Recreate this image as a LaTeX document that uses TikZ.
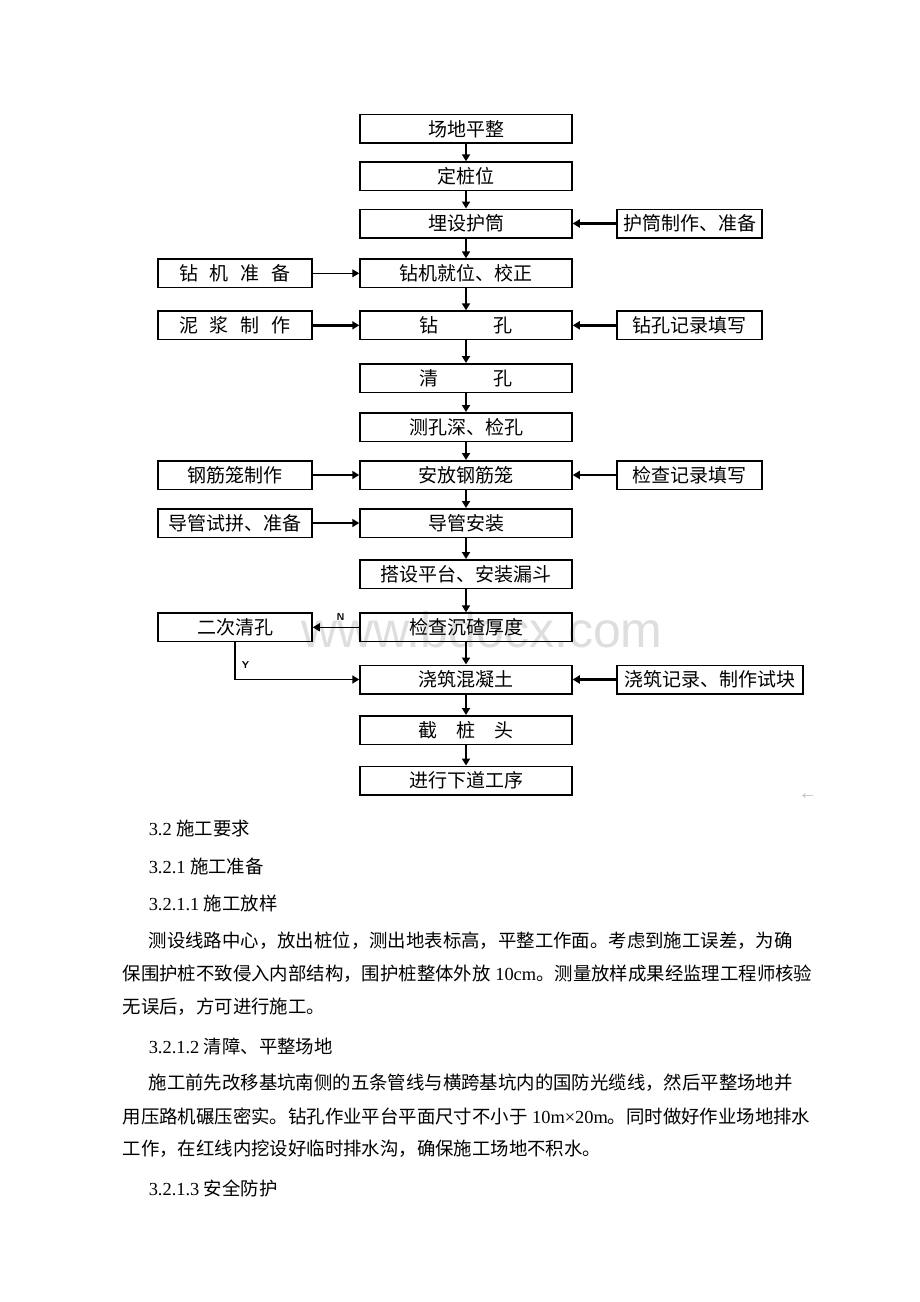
\documentclass[tikz,border=0pt]{standalone}
\usepackage{fontspec}
\setmainfont{Liberation Serif}
\newfontfamily\cjk{Noto Sans CJK SC}
\usetikzlibrary{arrows.meta}

\tikzset{every picture/.style={line width=0.75pt}}
\tikzset{
  box/.style={draw, inner sep=0pt, minimum width=106pt, minimum height=14.25pt, font=\fontsize{9.5pt}{11pt}\cjk},
  sidebox/.style={draw, inner sep=0pt, minimum width=77pt, minimum height=14.25pt, font=\fontsize{9.5pt}{11pt}\cjk},
  rightbox/.style={draw, inner sep=0pt, minimum width=72.5pt, minimum height=14.25pt, font=\fontsize{9.5pt}{11pt}\cjk},
  flow/.style={line width=1.25pt, -{Triangle[length=3.5pt,width=4pt]}},
  thinflow/.style={line width=0.6pt, -{Triangle[length=3.5pt,width=4pt]}},
  bodytext/.style={anchor=west, inner sep=0pt, font=\fontsize{9.2pt}{11pt}\selectfont},
  yesno/.style={inner sep=0pt, font=\fontsize{5pt}{6pt}\sffamily\bfseries}
}

\begin{document}
\begin{tikzpicture}[x=0.5pt,y=0.5pt,yscale=-1,xscale=1]
    \useasboundingbox (0,0) rectangle (920,1302);
    %set diagram to the page, 920 wide and 1302 high

    % Watermark
    \node [inner sep=0pt, text=black!13, font=\fontsize{25pt}{26pt}\fontspec{Liberation Sans}] (mark) at (482,630) {www.bdocx.com};

    %Shape: main column
    \node [box] (level) at (466,128.8) {场地平整};
    \node [box] (stake) at (466,176.3) {定桩位};
    \node [box] (casing) at (466,223.5) {埋设护筒};
    \node [box] (rig) at (466,273.3) {钻机就位、校正};
    \node [box] (drill) at (466,325.3) {钻\hspace{27.5pt}孔};
    \node [box] (clean) at (466,378) {清\hspace{27.5pt}孔};
    \node [box] (depth) at (466,427) {测孔深、检孔};
    \node [box] (cage) at (466,475) {安放钢筋笼};
    \node [box] (pipe) at (466,523) {导管安装};
    \node [box] (hopper) at (466,574) {搭设平台、安装漏斗};
    \node [box] (sediment) at (466,627.3) {检查沉碴厚度};
    \node [box] (pour) at (466,679.5) {浇筑混凝土};
    \node [box] (cut) at (466,730) {截\hspace{9.5pt}桩\hspace{9.5pt}头};
    \node [box] (next) at (466,780.5) {进行下道工序};

    %Shape: left column
    \node [sidebox] (rigprep) at (235,273.3) {钻\hspace{6pt}机\hspace{6pt}准\hspace{6pt}备};
    \node [sidebox] (mud) at (235,325.3) {泥\hspace{6pt}浆\hspace{6pt}制\hspace{6pt}作};
    \node [sidebox] (cagemake) at (235,475) {钢筋笼制作};
    \node [sidebox] (pipetest) at (235,523) {导管试拼、准备};
    \node [sidebox] (reclean) at (235,627.3) {二次清孔};

    %Shape: right column
    \node [rightbox] (casingmake) at (689.5,223.5) {护筒制作、准备};
    \node [rightbox] (drillrec) at (689.5,325.3) {钻孔记录填写};
    \node [rightbox] (cagerec) at (689.5,475) {检查记录填写};
    \node [rightbox, minimum width=93pt] (pourrec) at (710,679.5) {浇筑记录、制作试块};

    %Arrows down the main column
    \foreach \a/\b in {level/stake, stake/casing, casing/rig, rig/drill, drill/clean, clean/depth, depth/cage, cage/pipe, pipe/hopper, hopper/sediment, sediment/pour, pour/cut, cut/next}
      \draw [flow] (\a) -- (\b);

    %Arrows in from the sides
    \draw [thinflow] (rigprep) -- (rig);
    \draw [flow] (mud) -- (drill);
    \draw [flow] (cagemake) -- (cage);
    \draw [flow] (pipetest) -- (pipe);
    \draw [flow] (casingmake) -- (casing);
    \draw [flow] (drillrec) -- (drill);
    \draw [flow] (cagerec) -- (cage);
    \draw [flow] (pourrec) -- (pour);

    %Second cleaning loop
    \draw [thinflow] (sediment) -- (reclean) node [yesno, pos=0.4, above=3pt] (no) {N};
    \draw [flow, line width=0.9pt] (reclean.south) |- (pour.west) node [yesno, pos=0.3, right=3pt] (yes) {Y};

    % Text Node
    \node [text=black!35, inner sep=0pt, font=\fontsize{5pt}{6pt}\selectfont] (ret) at (808,797) {$\leftarrow$};

    % Text Node
    \node [bodytext] (h1) at (148,829) {3.2 {\cjk 施工要求}};
    \node [bodytext] (h2) at (148,866) {3.2.1 {\cjk 施工准备}};
    \node [bodytext] (h3) at (148,903) {3.2.1.1 {\cjk 施工放样}};
    \node [bodytext] (p1a) at (148,941) {\cjk 测设线路中心，放出桩位，测出地表标高，平整工作面。考虑到施工误差，为确};
    \node [bodytext] (p1b) at (122,974) {{\cjk 保围护桩不致侵入内部结构，围护桩整体外放} 10cm{\cjk 。测量放样成果经监理工程师核验}};
    \node [bodytext] (p1c) at (122,1007) {\cjk 无误后，方可进行施工。};
    \node [bodytext] (h4) at (148,1046) {3.2.1.2 {\cjk 清障、平整场地}};
    \node [bodytext] (p2a) at (148,1083) {\cjk 施工前先改移基坑南侧的五条管线与横跨基坑内的国防光缆线，然后平整场地并};
    \node [bodytext] (p2b) at (122,1116) {{\cjk 用压路机碾压密实。钻孔作业平台平面尺寸不小于} 10m×20m{\cjk 。同时做好作业场地排水}};
    \node [bodytext] (p2c) at (122,1149) {\cjk 工作，在红线内挖设好临时排水沟，确保施工场地不积水。};
    \node [bodytext] (h5) at (148,1188) {3.2.1.3 {\cjk 安全防护}};

\end{tikzpicture}
\end{document}
